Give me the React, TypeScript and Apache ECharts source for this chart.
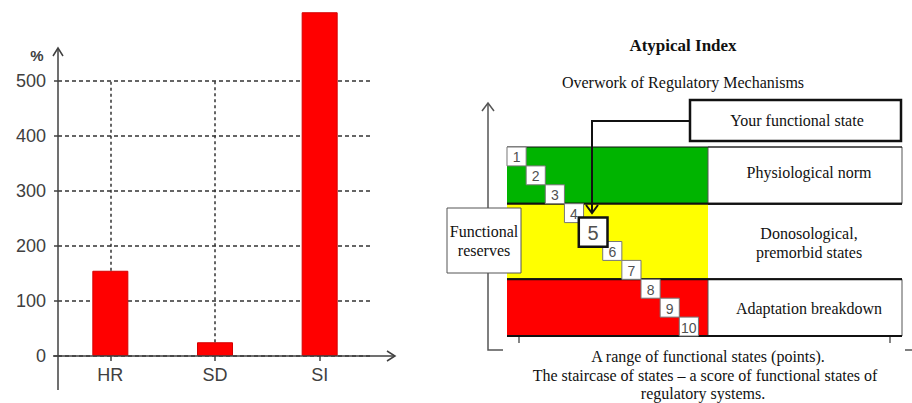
import React, { useEffect, useRef } from 'react';
import * as echarts from 'echarts';

// ---- Left bar chart data ----
const categories = ['HR', 'SD', 'SI'];
const values = [155, 25, 625];
const yMin = 0;
const yMax = 500;
const yStep = 100;

// ---- Right diagram data ----
const bandLabels = ['Physiological norm', 'Donosological,\npremorbid states', 'Adaptation breakdown'];
const bandStart = [1, 4, 8];
const bandEnd = [3, 7, 10];
const bandColors = ['#00b400', '#ffff00', '#ff0000'];
const bandBoxed = [true, false, true];
const statePoints = [1, 2, 3, 4, 5, 6, 7, 8, 9, 10];
const currentState = 5;

const titleText = 'Atypical Index';
const subtitleText = 'Overwork of Regulatory Mechanisms';
const stateBoxText = 'Your functional state';
const reservesText = 'Functional\nreserves';
const captionLines = [
  'A range of functional states (points).',
  'The staircase of states \u2013 a score of functional states of',
  'regulatory systems.',
];

const SANS = '"Liberation Sans", Arial, sans-serif';
const SERIF = '"Liberation Serif", "Times New Roman", serif';
const AX = '#404040';

export default function App() {
  const ref = useRef<HTMLDivElement>(null);

  useEffect(() => {
    if (!ref.current) return;
    const chart = echarts.init(ref.current, undefined, { renderer: 'svg' });

    const serifText = (text: string, x: number, y: number, size = 16, bold = false) => ({
      type: 'text',
      x,
      y,
      z: 100,
      style: {
        text,
        fill: '#111',
        font: `${bold ? 'bold ' : ''}${size}px ${SERIF}`,
        textAlign: 'center',
        textVerticalAlign: 'middle',
        lineHeight: 19,
      },
    });

    const option: any = {
      animation: false,
      grid: [
        { left: 58, top: 81, right: 540, bottom: 47 },
        { left: 507, top: 147, right: 204, bottom: 67 },
      ],
      xAxis: [
        {
          type: 'category',
          gridIndex: 0,
          data: categories,
          boundaryGap: true,
          axisLine: { show: false },
          axisTick: { show: true, alignWithLabel: true, length: 5, lineStyle: { color: AX, width: 1.5 } },
          axisLabel: { color: AX, fontSize: 18, fontFamily: SANS, margin: 10 },
          splitLine: { show: false },
        },
        { type: 'value', gridIndex: 1, min: 0.5, max: 11, show: false },
      ],
      yAxis: [
        {
          type: 'value',
          gridIndex: 0,
          min: yMin,
          max: yMax,
          interval: yStep,
          axisLine: { show: false },
          axisTick: { show: true, length: 4, lineStyle: { color: AX, width: 1.5 } },
          axisLabel: { color: AX, fontSize: 18, fontFamily: SANS, margin: 12 },
          splitLine: { show: true, lineStyle: { color: '#333', width: 1.5, type: [4, 3] } },
        },
        { type: 'value', gridIndex: 1, min: 0.5, max: 10.5, inverse: true, show: false },
      ],
      series: [
        {
          type: 'bar',
          xAxisIndex: 0,
          yAxisIndex: 0,
          data: values,
          barWidth: 36,
          clip: false,
          itemStyle: { color: '#ff0000', borderColor: '#d40000', borderWidth: 1 },
          markLine: {
            silent: true,
            symbol: 'none',
            label: { show: false },
            lineStyle: { color: '#333', width: 1.5, type: [3, 3] },
            data: categories
              .map((c, i) => ({ c, v: values[i] }))
              .filter((d) => d.v < yMax)
              .map((d) => [{ coord: [d.c, d.v] }, { coord: [d.c, yMax] }]),
          },
          z: 2,
        },
        {
          type: 'custom',
          xAxisIndex: 1,
          yAxisIndex: 1,
          z: 1,
          data: bandStart.map((s, i) => [s, bandEnd[i], i]),
          renderItem: (params: any, api: any) => {
            const from = api.value(0);
            const to = api.value(1);
            const idx = api.value(2);
            const tl = api.coord([0.5, from - 0.5]);
            const br = api.coord([11, to + 0.5]);
            const boxLeft = br[0];
            const boxRight = boxLeft + 194;
            const h = br[1] - tl[1];
            const children: any[] = [
              {
                type: 'rect',
                shape: { x: tl[0], y: tl[1], width: br[0] - tl[0], height: h },
                style: { fill: bandColors[idx] },
              },
            ];
            if (bandBoxed[idx]) {
              children.push({
                type: 'rect',
                shape: { x: boxLeft, y: tl[1], width: boxRight - boxLeft, height: h },
                style: { fill: '#fff', stroke: '#555', lineWidth: 1 },
              });
            }
            children.push(
              {
                type: 'line',
                shape: { x1: tl[0], y1: tl[1], x2: boxRight, y2: tl[1] },
                style: { stroke: '#111', lineWidth: idx === 0 ? 1.2 : 2 },
              },
              {
                type: 'line',
                shape: { x1: tl[0], y1: br[1], x2: boxRight, y2: br[1] },
                style: { stroke: '#111', lineWidth: 2 },
              },
              {
                type: 'text',
                x: (boxLeft + boxRight) / 2 + 4,
                y: (tl[1] + br[1]) / 2 + (idx === 0 ? -3 : 1),
                style: {
                  text: bandLabels[idx],
                  fill: '#111',
                  font: `16px ${SERIF}`,
                  textAlign: 'center',
                  textVerticalAlign: 'middle',
                  lineHeight: 19,
                },
              }
            );
            return { type: 'group', children };
          },
        },
        {
          type: 'custom',
          xAxisIndex: 1,
          yAxisIndex: 1,
          z: 3,
          data: statePoints.map((p) => [p, p]),
          renderItem: (params: any, api: any) => {
            const x = api.value(0);
            const y = api.value(1);
            const c = api.coord([x, y]);
            const s = api.size([1, 1]);
            const cur = x === currentState;
            const w = cur ? s[0] * 1.5 : s[0];
            const h = cur ? s[1] * 1.55 : s[1];
            return {
              type: 'group',
              z2: cur ? 10 : 1,
              children: [
                {
                  type: 'rect',
                  z2: cur ? 10 : 1,
                  shape: { x: c[0] - w / 2, y: c[1] - h / 2, width: w, height: h },
                  style: { fill: '#fff', stroke: cur ? '#111' : '#777', lineWidth: cur ? 2.5 : 1 },
                },
                {
                  type: 'text',
                  z2: cur ? 11 : 2,
                  x: c[0],
                  y: c[1] + 1,
                  style: {
                    text: String(x),
                    fill: '#505050',
                    font: `${cur ? 20 : 14}px ${SANS}`,
                    textAlign: 'center',
                    textVerticalAlign: 'middle',
                  },
                },
              ],
            };
          },
        },
      ],
      graphic: [
        // left chart axes
        { type: 'line', z: 100, shape: { x1: 58, y1: 390, x2: 58, y2: 48 }, style: { stroke: AX, lineWidth: 1.5 } },
        { type: 'polyline', z: 100, shape: { points: [[53, 56], [58, 48], [63, 56]] }, style: { stroke: AX, lineWidth: 1.5, fill: null } },
        { type: 'line', z: 100, shape: { x1: 53, y1: 356, x2: 395, y2: 356 }, style: { stroke: AX, lineWidth: 1.5 } },
        { type: 'polyline', z: 100, shape: { points: [[387, 351], [395, 356], [387, 361]] }, style: { stroke: AX, lineWidth: 1.5, fill: null } },
        { type: 'text', z: 100, x: 37, y: 55, style: { text: '%', fill: AX, font: `bold 15px ${SANS}`, textAlign: 'center', textVerticalAlign: 'middle' } },

        // right diagram: titles
        serifText(titleText, 683, 45, 17, true),
        serifText(subtitleText, 683, 82, 16),

        // vertical reserves axis bracket
        { type: 'polyline', z: 100, shape: { points: [[488, 103], [488, 350], [503, 350]] }, style: { stroke: '#555', lineWidth: 1.5, fill: null } },
        { type: 'polyline', z: 100, shape: { points: [[482, 111], [488, 103], [494, 111]] }, style: { stroke: '#555', lineWidth: 1.5, fill: null } },
        { type: 'line', z: 100, shape: { x1: 905, y1: 350, x2: 912, y2: 350 }, style: { stroke: '#555', lineWidth: 1.5 } },
        // bottom range ticks
        { type: 'line', z: 100, shape: { x1: 519, y1: 337, x2: 519, y2: 343 }, style: { stroke: '#333', lineWidth: 1.2 } },
        { type: 'line', z: 100, shape: { x1: 890, y1: 337, x2: 890, y2: 343 }, style: { stroke: '#333', lineWidth: 1.2 } },

        // your functional state box + arrow
        { type: 'rect', z: 100, shape: { x: 690, y: 100, width: 211, height: 41 }, style: { fill: '#fff', stroke: '#111', lineWidth: 2.5 } },
        serifText(stateBoxText, 797, 120, 16),
        { type: 'polyline', z: 100, shape: { points: [[690, 121], [592, 121], [592, 213]] }, style: { stroke: '#111', lineWidth: 2, fill: null } },
        { type: 'polyline', z: 100, shape: { points: [[586, 205], [592, 213], [598, 205]] }, style: { stroke: '#111', lineWidth: 2, fill: null } },

        // functional reserves box
        { type: 'rect', z: 100, shape: { x: 447, y: 208, width: 74, height: 65 }, style: { fill: '#fff', stroke: '#555', lineWidth: 1 } },
        serifText(reservesText, 484, 241, 16),

        // captions
        serifText(captionLines[0], 708, 356, 16),
        serifText(captionLines[1], 705, 375, 16),
        serifText(captionLines[2], 703, 393, 16),
      ],
    };

    chart.setOption(option);
    return () => chart.dispose();
  }, []);

  return (
    <div
      ref={ref}
      style={{ position: 'fixed', left: 0, top: 0, width: 912, height: 403, background: '#fff' }}
    />
  );
}
